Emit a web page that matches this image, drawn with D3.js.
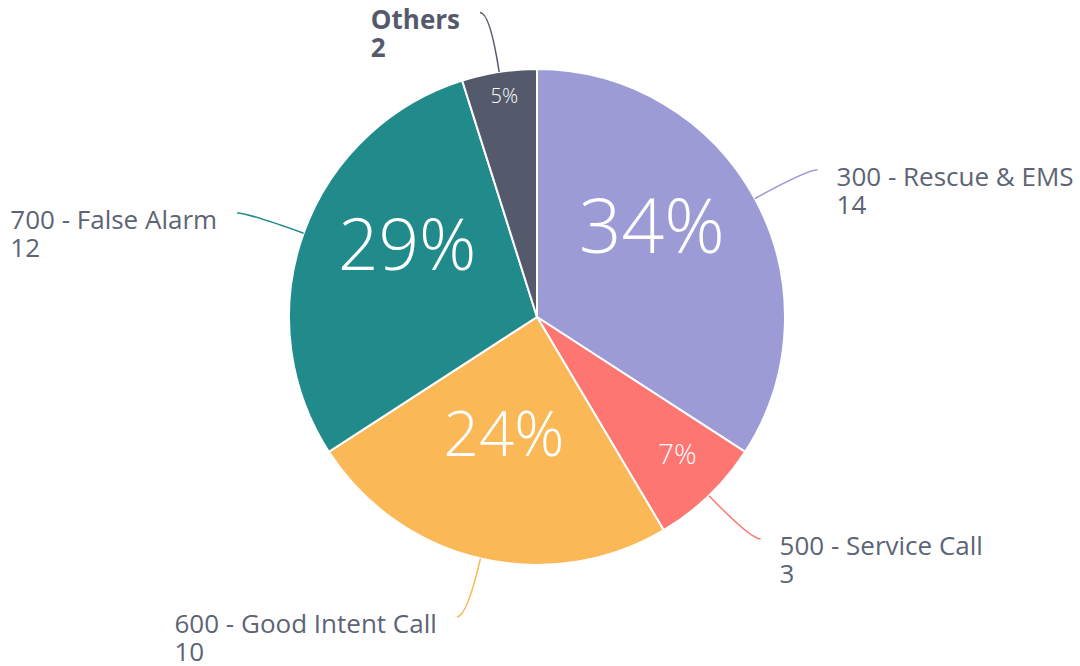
<!DOCTYPE html>
<html>
<head>
<meta charset="utf-8">
<script src="https://cdn.jsdelivr.net/npm/d3@7"></script>
<style>
  body { margin: 0; background: #fff; }
  text { font-family: "Open Sans", sans-serif; }
</style>
</head>
<body>
<div id="chart"></div>
<script>
// data
const categories = ["300 - Rescue & EMS", "500 - Service Call", "600 - Good Intent Call", "700 - False Alarm", "Others"];
const counts = [14, 3, 10, 12, 2];
const colors = ["#9c9bd6", "#fe7672", "#fab857", "#218a8a", "#545a6b"];

const width = 1080, height = 666;
const cx = 537, cy = 317, radius = 248;

const total = d3.sum(counts);
const rows = categories.map((c, i) => ({ name: c, value: counts[i], color: colors[i] }));

const svg = d3.select("#chart")
    .append("svg")
    .attr("width", width)
    .attr("height", height);

const g = svg.append("g")
    .attr("transform", "translate(" + cx + "," + cy + ")");

const pie = d3.pie().sort(null).value(d => d.value);
const arcs = pie(rows);

const arc = d3.arc().innerRadius(0).outerRadius(radius);

g.selectAll("path.slice")
    .data(arcs)
    .enter()
    .append("path")
    .attr("class", "slice")
    .attr("d", arc)
    .attr("fill", d => d.data.color)
    .attr("stroke", "#fff")
    .attr("stroke-width", 2);

// inner percent labels: size grows with share
const fontSize = d3.scaleLinear().domain([2, 3, 10, 12, 14]).range([20, 28, 62, 71, 75]);
// where inside the slice the label sits (fraction along arc, fraction of radius)
function innerPos(d) {
    const share = d.data.value / total;
    let t = 0.5, rf = 0.6;
    if (share < 0.06) { t = 0.52; rf = 0.9; }
    else if (share < 0.1) { t = 0.43; rf = 0.79; }
    else if (share < 0.27) { t = 0.53; rf = 0.49; }
    else if (share < 0.31) { t = 0.59; rf = 0.6; }
    else { t = 0.42; rf = 0.59; }
    const a = d.startAngle + t * (d.endAngle - d.startAngle);
    return [Math.sin(a) * radius * rf, -Math.cos(a) * radius * rf];
}

g.selectAll("text.pct")
    .data(arcs)
    .enter()
    .append("text")
    .attr("class", "pct")
    .attr("transform", d => "translate(" + innerPos(d) + ")")
    .attr("text-anchor", "middle")
    .attr("dy", "0.36em")
    .attr("fill", "#fff")
    .style("font-size", d => fontSize(d.data.value) + "px")
    .style("font-weight", 300)
    .text(d => Math.round(d.data.value / total * 100) + "%");

// leader lines + outside labels
const lineR = 308;
function mid(d) { return (d.startAngle + d.endAngle) / 2; }

arcs.forEach(function(d) {
    const a = mid(d);
    const right = Math.sin(a) >= 0;
    const p0 = [Math.sin(a) * radius, -Math.cos(a) * radius];
    const p1 = [Math.sin(a) * lineR, -Math.cos(a) * lineR];
    const p2 = [p1[0] + (right ? 10 : -10), p1[1]];

    g.append("path")
        .attr("d", "M" + p0 + "Q" + p1 + " " + p2)
        .attr("fill", "none")
        .attr("stroke", d.data.color)
        .attr("stroke-width", 1.5);

    const isOther = d.data.name === "Others";
    const label = g.append("text")
        .attr("fill", isOther ? "#545a6b" : "#5d6475")
        .style("font-size", "26px")
        .style("font-weight", isOther ? "bold" : "normal");
    label.append("tspan").attr("x", 0).attr("y", 0).text(d.data.name);
    label.append("tspan").attr("x", 0).attr("y", 28).text(d.data.value);

    const w = label.node().getBBox().width;
    const tx = right ? p2[0] + 19 : p2[0] - 20 - w;
    label.attr("transform", "translate(" + tx + "," + (p2[1] + 16) + ")");
});
</script>
</body>
</html>
